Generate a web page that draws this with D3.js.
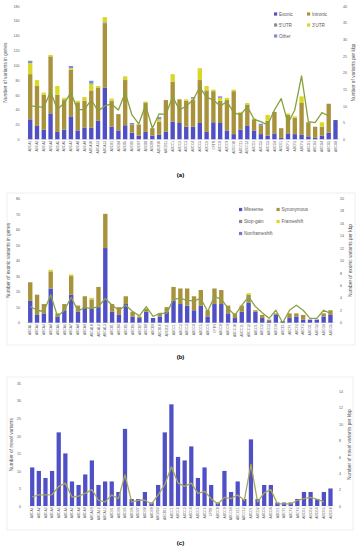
<!DOCTYPE html>
<html>
<head>
<meta charset="utf-8">
<script src="https://cdn.jsdelivr.net/npm/d3@7"></script>
<style>
body { margin: 0; background: #fff; }
text { font-family: "Liberation Sans", Arial, sans-serif; fill: #595959; }
</style>
</head>
<body>
<svg id="chart" width="361" height="550"></svg>
<script>
var genes = ["ABCA1","ABCA2","ABCA3","ABCA4","ABCA5","ABCA6","ABCA7","ABCA8","ABCA9","ABCA10","ABCA12","ABCA13",
  "ABCB1","ABCB4","ABCB5","ABCB6","ABCB7","ABCB8","ABCB9","ABCB10","ABCB11",
  "ABCC1","ABCC2","ABCC3","ABCC4","ABCC5","ABCC6","CFTR","ABCC8","ABCC9","ABCC10","ABCC11","ABCC12",
  "ABCD1","ABCD2","ABCD3","ABCD4","ABCE1","ABCF1","ABCF2","ABCF3","ABCG1","ABCG2","ABCG4","ABCG5","ABCG8"];
var genesB = genes.slice(0, 45);

// (a) variants in genes
var exonic   = [27,18,13,35,10,13,31,12,16,16,25,70,17,12,19,9,5,10,5,6,10,24,22, 17,17,22,10,23,22,12,7,13,18,12,7,5,8,2,8,7,6,4,2,5,9,26];
var intronic = [61,54,47,77,50,40,63,38,36,50,45,86,35,22,61,11,15,39,10,18,43,54,32, 35,36,58,56,42,30,41,58,23,29,15,12,20,29,13,25,22,43,19,15,12,39,0];
var utr5     = [0,0,0,0,0,0,0,0,0,0,0,2,0,0,0,0,0,0,0,0,0,0,0, 0,0,0,0,0,0,0,0,0,0,0,0,0,0,0,0,0,0,0,0,0,0,0];
var utr3     = [15,8,3,2,12,3,2,2,5,9,2,7,3,0,5,0,0,2,0,3,0,10,0, 2,2,16,6,2,4,3,2,1,2,1,0,8,0,0,2,2,9,0,0,6,0,0];
var other    = [3,0,0,0,0,0,3,0,0,4,0,0,0,0,0,2,0,0,0,3,0,0,0, 0,2,0,0,0,2,0,0,0,0,0,2,0,0,0,0,0,0,0,0,0,0,0];
var perKbpA  = [10,9.8,9.6,14.3,9,10.8,14,8.8,9,11.8,8.5,10,10.6,8.8,14,7.3,4.6,10.3,3.3,7.6,7.5,12.8,8.8,
  10,11.8,15.6,12.6,11.8,10,11.3,8,7.3,9.8,6,5.3,4.3,8.8,12.2,4.8,8.8,19,5.3,5,8,7,null];

// (b) exonic variants
var missense      = [14,5,6,22,4,8,18,7,10,9,10,48,7,5,12,4,3,7,3,4,7,14,12, 11,8,11,4,12,12,6,3,7,13,7,3,1,5,1,3,4,2,2,2,4,5];
var synonymous    = [12,13,6,11,2,4,12,4,7,6,13,22,5,5,5,3,1,2,0,2,3,9,10, 11,9,10,4,10,9,5,3,4,5,1,2,1,1,0,3,2,3,0,0,2,3];
var stopGain      = [0,0,0,0,0,0,0,0,0,0,0,0,0,0,0,0,0,0,0,0,0,0,0, 0,0,0,0,0,0,0,0,0,0,0,0,0,0,0,0,0,0,0,0,0,0];
var frameshift    = [0,0,0,1,0,0,1,0,0,1,0,0,0,0,0,0,0,0,0,0,0,0,0, 0,0,0,0,0,0,0,0,0,1,0,0,0,0,0,0,0,0,0,0,0,0];
var nonframeshift = [0,0,0,0,0,0,0,0,0,0,0,0,0,0,0,0,0,0,0,0,0,0,0, 0,0,0,0,0,0,0,0,0,0,0,0,0,0,0,0,0,0,0,0,0,0];
var perKbpB = [2.6,2.0,1.8,4.5,1.0,2.0,4.1,1.9,2.4,2.3,2.6,3.9,2.8,2.0,2.8,1.8,1.1,2.6,1.0,1.5,1.5,3.8,3.9,
  3.6,3.5,3.9,1.8,4.2,3.8,2.3,1.2,2.8,4.2,2.6,1.6,0.7,2.0,0,2.0,2.8,2.0,0.7,0.7,2.0,1.5];

// (c) novel variants
var novel = [11,10,8,10,21,15,7,6,9,13,6,7,7,4,22,2,2,4,1,6,21,29,14, 13,17,8,11,6,1,10,4,7,2,19,2,6,6,1,1,1,2,4,4,2,4,5];
var perKbpC = [1.1,1.35,1.35,1.4,2.4,2.8,1.1,1.2,1.55,2.0,0.7,0.5,1.35,0.9,3.8,0.5,0.7,0.7,0.25,1.35,2.6,4.8,2.8,
  2.4,2.8,1.55,1.8,0.9,0.25,1.05,0.9,1.35,0.7,5.1,0.5,1.6,2.0,0.25,0.25,0.25,0.7,0.9,1.05,0.8,0.5,null];

var ticksA = [0,20,40,60,80,100,120,140,160,180], ticksA2 = [0,5,10,15,20,25,30,35,40];
var ticksB = [0,10,20,30,40,50,60,70,80], ticksB2 = [0,2,4,6,8,10,12,14,16,18,20];
var ticksC = [0,5,10,15,20,25,30,35], ticksC2 = [0,2,4,6,8,10,12,14];

var svg = d3.select("#chart");
svg.append("rect").attr("width", 361).attr("height", 550).attr("fill", "#fff");

function drawPanel(p) {
  var g = svg.append("g");
  if (p.border) {
    g.append("rect").attr("x", p.border[0]).attr("y", p.border[1])
      .attr("width", p.border[2] - p.border[0]).attr("height", p.border[3] - p.border[1])
      .attr("fill", "none").attr("stroke", "#e3e3e3").attr("stroke-width", 0.6);
  }
  var x = d3.scaleBand().domain(p.cats).range([p.left, p.right]).padding(0.36);
  var y = d3.scaleLinear().domain([0, p.yMax]).range([p.bottom, p.top]);
  var y2 = d3.scaleLinear().domain([0, p.y2Max]).range([p.bottom, p.top]);

  var rows = p.cats.map(function(c, i) {
    var o = {gene: c};
    p.series.forEach(function(s) { o[s.name] = s.values[i]; });
    return o;
  });
  var stacked = d3.stack().keys(p.series.map(function(s) { return s.name; }))(rows);

  g.append("line").attr("x1", p.left).attr("x2", p.right).attr("y1", p.bottom).attr("y2", p.bottom)
    .attr("stroke", "#d9d9d9").attr("stroke-width", 0.5);

  stacked.forEach(function(layer, k) {
    g.append("g").attr("fill", p.series[k].color)
      .selectAll("rect").data(layer).enter().append("rect")
      .attr("x", function(d) { return x(d.data.gene); })
      .attr("width", x.bandwidth())
      .attr("y", function(d) { return y(d[1]); })
      .attr("height", function(d) { return y(d[0]) - y(d[1]); });
  });

  var line = d3.line()
    .defined(function(d) { return d != null; })
    .x(function(d, i) { return x(p.cats[i]) + x.bandwidth() / 2; })
    .y(function(d) { return y2(d); });
  g.append("path").datum(p.lineValues)
    .attr("fill", "none").attr("stroke", p.lineColor)
    .attr("stroke-width", 1.3).attr("stroke-linejoin", "round")
    .attr("d", line);

  var yl = g.append("g").attr("transform", "translate(" + p.leftTickX + ",0)")
    .call(d3.axisLeft(y).tickValues(p.ticks).tickSize(0).tickPadding(0));
  var yr = g.append("g").attr("transform", "translate(" + p.rightTickX + ",0)")
    .call(d3.axisRight(y2).tickValues(p.ticks2).tickSize(0).tickPadding(0));
  [yl, yr].forEach(function(a) {
    a.select(".domain").remove();
    a.selectAll("text").style("font-size", "3.6px").style("font-family", "'Liberation Sans', Arial, sans-serif").attr("fill", "#595959");
  });

  var xa = g.append("g").attr("transform", "translate(0," + p.bottom + ")")
    .call(d3.axisBottom(x).tickSize(0).tickPadding(0));
  xa.select(".domain").remove();
  xa.selectAll("text")
    .attr("transform", "rotate(-90)")
    .attr("x", -1.5).attr("y", 0).attr("dy", "0.35em")
    .style("text-anchor", "end").style("font-size", "3.3px")
    .style("font-family", "'Liberation Sans', Arial, sans-serif").attr("fill", "#595959");

  var mid = (p.top + p.bottom) / 2;
  g.append("text").attr("transform", "translate(" + p.leftTitleX + "," + mid + ") rotate(-90)")
    .attr("text-anchor", "middle").style("font-size", "4.8px").text(p.leftTitle);
  g.append("text").attr("transform", "translate(" + p.rightTitleX + "," + mid + ") rotate(-90)")
    .attr("text-anchor", "middle").style("font-size", "4.8px").text(p.rightTitle);

  p.legend.forEach(function(l, i) {
    var s = p.series[i];
    g.append("rect").attr("x", l[0]).attr("y", l[1] - 1.6).attr("width", 3.2).attr("height", 3.2).attr("fill", s.color);
    g.append("text").attr("x", l[0] + 5).attr("y", l[1]).attr("dy", "0.35em")
      .style("font-size", "4.6px").text(s.name);
  });

  g.append("text").attr("x", 180.5).attr("y", p.captionY).attr("text-anchor", "middle")
    .style("font-size", "6px").style("font-weight", "bold").attr("fill", "#000").style("fill", "#000")
    .text(p.caption);
}

drawPanel({
  cats: genes, left: 25.6, right: 340.1, top: 6, bottom: 139.3,
  yMax: 180, y2Max: 40, ticks: ticksA, ticks2: ticksA2,
  leftTickX: 19.5, rightTickX: 343, leftTitleX: 7, rightTitleX: 354.5,
  leftTitle: "Number of variants in genes", rightTitle: "Number of variants per kbp",
  series: [
    {name: "Exonic", values: exonic, color: "#4f4fc6"},
    {name: "Intronic", values: intronic, color: "#a8923c"},
    {name: "5'UTR", values: utr5, color: "#8c8c8c"},
    {name: "3'UTR", values: utr3, color: "#d8d82a"},
    {name: "Other", values: other, color: "#7a8cdc"}
  ],
  legend: [[274, 14], [307, 14], [274, 25], [307, 25], [274, 36]],
  lineValues: perKbpA, lineColor: "#86a03c",
  caption: "(a)", captionY: 177
});

drawPanel({
  cats: genesB, left: 25.6, right: 335.1, top: 198.3, bottom: 322.7,
  yMax: 80, y2Max: 20, ticks: ticksB, ticks2: ticksB2,
  leftTickX: 20, rightTickX: 340, leftTitleX: 10, rightTitleX: 351.5,
  leftTitle: "Number of exonic variants in genes", rightTitle: "Number of exonic variants per kbp",
  series: [
    {name: "Missense", values: missense, color: "#4f4fc6"},
    {name: "Synonymous", values: synonymous, color: "#a8923c"},
    {name: "Stop-gain", values: stopGain, color: "#8c8c8c"},
    {name: "Frameshift", values: frameshift, color: "#d8d82a"},
    {name: "Nonframeshift", values: nonframeshift, color: "#6a7ad8"}
  ],
  legend: [[239, 209.5], [276.5, 209.5], [239, 221.5], [276.5, 221.5], [239, 233.5]],
  lineValues: perKbpB, lineColor: "#8aa34a",
  border: [7, 193, 355, 345],
  caption: "(b)", captionY: 359
});

drawPanel({
  cats: genes, left: 27.7, right: 335, top: 383.3, bottom: 506,
  yMax: 35, y2Max: 15, ticks: ticksC, ticks2: ticksC2,
  leftTickX: 21, rightTickX: 339, leftTitleX: 13, rightTitleX: 350.5,
  leftTitle: "Number of novel variants", rightTitle: "Number of novel variants per kbp",
  series: [
    {name: "Novel", values: novel, color: "#4f4fc6"}
  ],
  legend: [],
  lineValues: perKbpC, lineColor: "#a9a65a",
  border: [7, 377, 353, 530],
  caption: "(c)", captionY: 545
});
</script>
</body>
</html>
